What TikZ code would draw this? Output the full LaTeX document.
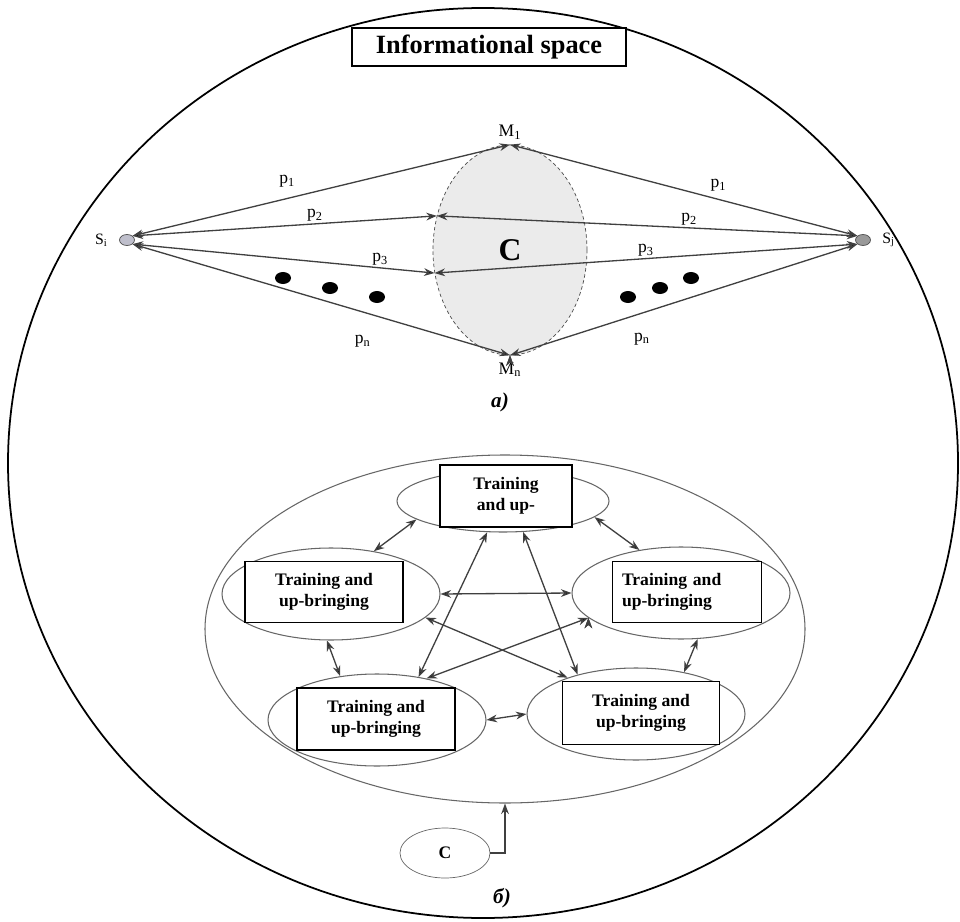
\documentclass[tikz,border=0pt]{standalone}
\usepackage{fontspec}
\setmainfont{Liberation Serif}
\usetikzlibrary{arrows.meta, positioning, shapes.geometric}
\newdimen\pxu
\pxu=0.02cm

\begin{document}
\begin{tikzpicture}[x=0.02cm, y=-0.02cm, >={Stealth[length=6pt,width=4.4pt]},
      line/.style={draw=black!75, line width=0.75pt},
      src/.style={ellipse, draw=black!70, fill=#1, minimum width=15\pxu, minimum height=11\pxu, inner sep=0pt},
      blob/.style={ellipse, fill=black, minimum width=16\pxu, minimum height=12\pxu, inner sep=0pt},
      plabel/.style={inner sep=1pt},
      oval/.style={ellipse, draw=black!60, line width=0.6pt, inner sep=0pt, minimum width=218\pxu, minimum height=92\pxu},
      tbox/.style={draw, fill=white, line width=0.9pt, font=\bfseries, align=center, inner sep=0pt, minimum width=158\pxu, minimum height=61\pxu}]
      \useasboundingbox (0,0) rectangle (960,922);

      % informational space
      \node[ellipse, draw, line width=1pt, minimum width=950\pxu, minimum height=910\pxu, inner sep=0pt] (space) at (483,463) {};
      \node[draw, fill=white, line width=0.9pt, minimum width=274\pxu, minimum height=38\pxu,
        font=\bfseries\fontsize{15}{17}\selectfont] (title) at (489,47) {Informational space};

      % scheme a)
      \node[ellipse, draw=black!70, dash pattern=on 2pt off 1.5pt, fill=black!8, minimum width=154\pxu,
        minimum height=210\pxu, inner sep=0pt, font=\bfseries\fontsize{18}{20}\selectfont] (c) at (510,250) {C};
      \node[src=blue!20!black!25] (s_i) at (127,240) {};
      \node[src=black!40] (s_j) at (863,240) {};
      \node[left=3pt of s_i, font=\small] (s_i_lbl) {S\textsubscript{i}};
      \node[right=3pt of s_j, font=\small] (s_j_lbl) {S\textsubscript{j}};
      \node[above=3pt of c.north, inner sep=0pt] (m_1) {M\textsubscript{1}};
      \node[below=4pt of c.south, inner sep=0pt] (m_n) {M\textsubscript{n}};
      \path[<->, line]
      (s_i.north east) edge node[pos=.41, above=5pt, plabel] (p1_l) {p\textsubscript{1}} (c.north)
      (c.north) edge node[pos=.6, above=3pt, plabel] (p1_r) {p\textsubscript{1}} (s_j.north west)
      (s_i.north east) edge node[pos=.6, above, plabel] (p2_l) {p\textsubscript{2}} (c.155)
      (c.155) edge node[pos=.6, above, plabel] (p2_r) {p\textsubscript{2}} (s_j.north west)
      (s_i.south east) edge node[pos=.82, above, plabel] (p3_l) {p\textsubscript{3}} (c.197)
      (c.197) edge node[pos=.5, above, plabel] (p3_r) {p\textsubscript{3}} (s_j.south west)
      (s_i.south east) edge node[pos=.61, below=12pt, plabel] (pn_l) {p\textsubscript{n}} (c.south)
      (c.south) edge node[pos=.38, below=10pt, plabel] (pn_r) {p\textsubscript{n}} (s_j.south west);
      \foreach \x/\y [count=\k] in {283/278, 330/288, 377/297, 628/297, 660/288, 691/278}
        \node[blob] (dot_\k) at (\x,\y) {};
      \node[font=\bfseries\itshape\fontsize{12}{14}\selectfont] (cap_a) at (500,402) {a)};

      % scheme b)
      \node[ellipse, draw=black!60, line width=0.6pt, minimum width=600\pxu, minimum height=348\pxu, inner sep=0pt] (group) at (505,629) {};
      \node[oval, minimum width=212\pxu, minimum height=62\pxu] (o_top) at (503,501) {};
      \node[oval] (o_left) at (331,594) {};
      \node[oval] (o_right) at (681,593) {};
      \node[oval] (o_bl) at (377,720) {};
      \node[oval] (o_br) at (636,714) {};
      \node[tbox, minimum width=132\pxu, minimum height=62\pxu] (b_top) at (506,496) {Training\\and up-};
      \node[tbox] (b_left) at (324,592) {Training and\\up-bringing};
      \node[tbox, minimum width=149\pxu, align=left, text width=130\pxu] (b_right) at (687,592) {Training and\\up-bringing};
      \node[tbox, minimum height=62\pxu] (b_bl) at (376,719) {Training and\\up-bringing};
      \node[tbox, minimum width=157\pxu, minimum height=63\pxu] (b_br) at (641,713) {Training and\\up-bringing};
      \path[<->, line]
      (o_top.192) edge (o_left.45)
      (o_top.350) edge (o_right.134)
      (o_left.east) edge (o_right.west)
      (o_left.265) edge (o_bl.130)
      (o_right.290) edge (o_br.41)
      (o_bl.east) edge (o_br.west)
      (o_top.243) edge (o_bl.46)
      (o_top.303) edge (o_br.146)
      (o_left.346) edge (o_br.152)
      (o_right.195) edge (o_bl.40);
      \node[ellipse, draw=black!60, minimum width=90\pxu, minimum height=50\pxu, inner sep=0pt, font=\bfseries] (c_low) at (445,853) {C};
      \draw[->, line] (c_low.east) -| (group.south);
      \node[font=\bfseries\itshape\fontsize{12}{14}\selectfont] (cap_b) at (502,898) {б)};
    \end{tikzpicture}
\end{document}
